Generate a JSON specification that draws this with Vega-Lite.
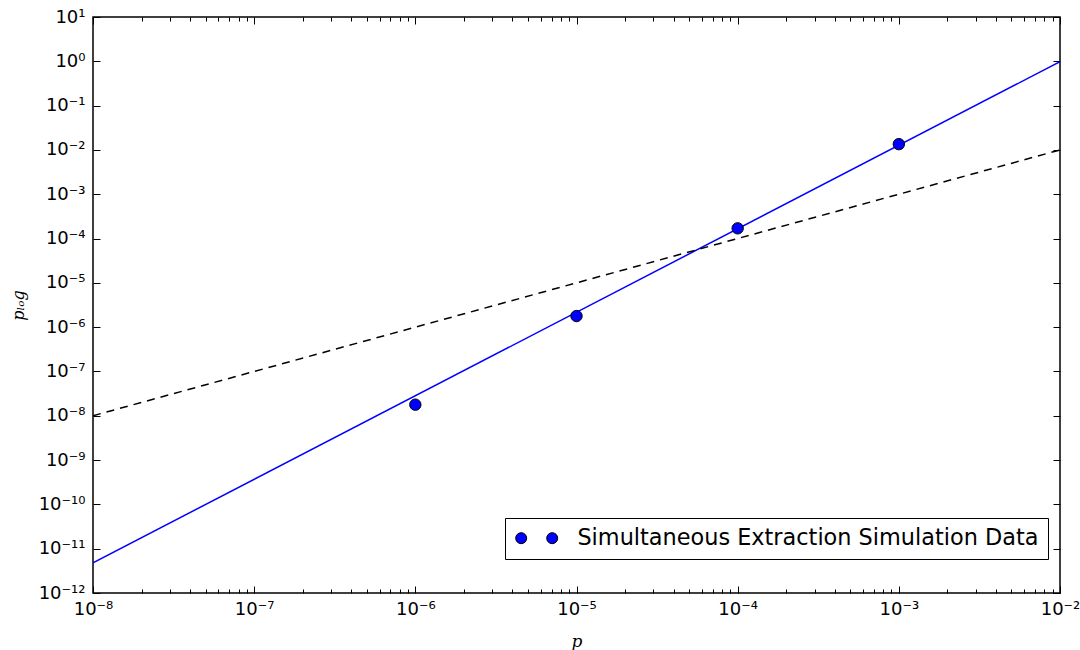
{
  "$schema": "https://vega.github.io/schema/vega-lite/v6.json",
  "width": 967,
  "height": 576,
  "autosize": "none",
  "padding": {"left": 93, "top": 17, "right": 20, "bottom": 57},
  "background": "white",
  "config": {
    "view": {"stroke": "black", "strokeWidth": 1.5},
    "axis": {"grid": false, "domain": false, "tickColor": "black", "tickWidth": 1, "labelColor": "black", "titleColor": "black"}
  },
  "datasets": {
    "fit": [
      {"p": 1e-8, "plog": 4.8e-12},
      {"p": 1e-2, "plog": 0.98}
    ],
    "ref": [
      {"p": 1e-8, "plog": 1e-8},
      {"p": 1e-2, "plog": 1e-2}
    ],
    "sim": [
      {"p": 1e-6, "plog": 1.78e-8, "series": "Simultaneous Extraction Simulation Data"},
      {"p": 1e-5, "plog": 1.78e-6, "series": "Simultaneous Extraction Simulation Data"},
      {"p": 1e-4, "plog": 1.7e-4, "series": "Simultaneous Extraction Simulation Data"},
      {"p": 1e-3, "plog": 1.35e-2, "series": "Simultaneous Extraction Simulation Data"}
    ]
  },
  "resolve": {"axis": {"x": "independent", "y": "independent"}},
  "layer": [
    {
      "data": {"name": "fit"},
      "mark": {"type": "line", "color": "#0000ff", "strokeWidth": 1.5, "clip": true},
      "encoding": {
        "x": {
          "field": "p", "type": "quantitative",
          "scale": {"type": "log", "domain": [1e-8, 1e-2], "nice": false},
          "axis": {
            "orient": "bottom",
            "values": [1e-8,2e-8,3e-8,4e-8,5e-8,6e-8,7e-8,8e-8,9e-8,1e-7,2e-7,3e-7,4e-7,5e-7,6e-7,7e-7,8e-7,9e-7,1e-6,2e-6,3e-6,4e-6,5e-6,6e-6,7e-6,8e-6,9e-6,1e-5,2e-5,3e-5,4e-5,5e-5,6e-5,7e-5,8e-5,9e-5,1e-4,2e-4,3e-4,4e-4,5e-4,6e-4,7e-4,8e-4,9e-4,1e-3,2e-3,3e-3,4e-3,5e-3,6e-3,7e-3,8e-3,9e-3,1e-2],
            "tickSize": {"condition": {"test": "abs(log(datum.value)/LN10 - round(log(datum.value)/LN10)) < 0.001", "value": -7}, "value": -4},
            "labelExpr": "abs(log(datum.value)/LN10 - round(log(datum.value)/LN10)) < 0.001 ? '10' + replace(replace(replace(replace(replace(replace(replace(replace(replace(replace(replace('' + round(log(datum.value)/LN10), regexp('-','g'), '⁻'), regexp('0','g'), '⁰'), regexp('1','g'), '¹'), regexp('2','g'), '²'), regexp('3','g'), '³'), regexp('4','g'), '⁴'), regexp('5','g'), '⁵'), regexp('6','g'), '⁶'), regexp('7','g'), '⁷'), regexp('8','g'), '⁸'), regexp('9','g'), '⁹') : ''",
            "labelFont": "DejaVu Sans", "labelFontSize": 18, "labelPadding": 14,
            "labelOverlap": false, "labelFlush": false, "labelBound": false,
            "title": "p", "titleFont": "DejaVu Serif", "titleFontStyle": "italic", "titleFontWeight": "normal", "titleFontSize": 17, "titlePadding": 12
          }
        },
        "y": {
          "field": "plog", "type": "quantitative",
          "scale": {"type": "log", "domain": [1e-12, 10], "nice": false},
          "axis": {
            "orient": "left",
            "values": [1e-12,1e-11,1e-10,1e-9,1e-8,1e-7,1e-6,1e-5,1e-4,1e-3,1e-2,1e-1,1,10],
            "tickSize": -7,
            "labelExpr": "'10' + replace(replace(replace(replace(replace(replace(replace(replace(replace(replace(replace('' + round(log(datum.value)/LN10), regexp('-','g'), '⁻'), regexp('0','g'), '⁰'), regexp('1','g'), '¹'), regexp('2','g'), '²'), regexp('3','g'), '³'), regexp('4','g'), '⁴'), regexp('5','g'), '⁵'), regexp('6','g'), '⁶'), regexp('7','g'), '⁷'), regexp('8','g'), '⁸'), regexp('9','g'), '⁹')",
            "labelFont": "DejaVu Sans", "labelFontSize": 18, "labelPadding": 15,
            "labelOverlap": false, "labelFlush": false, "labelBound": false,
            "title": "pₗₒg", "titleFont": "DejaVu Serif", "titleFontStyle": "italic", "titleFontWeight": "normal", "titleFontSize": 16, "titlePadding": 12
          }
        }
      }
    },
    {
      "data": {"name": "ref"},
      "mark": {"type": "line", "color": "black", "strokeWidth": 1.5, "strokeDash": [8, 6], "clip": true},
      "encoding": {
        "x": {
          "field": "p", "type": "quantitative",
          "scale": {"type": "log", "domain": [1e-8, 1e-2], "nice": false},
          "axis": {
            "orient": "top",
            "values": [1e-8,2e-8,3e-8,4e-8,5e-8,6e-8,7e-8,8e-8,9e-8,1e-7,2e-7,3e-7,4e-7,5e-7,6e-7,7e-7,8e-7,9e-7,1e-6,2e-6,3e-6,4e-6,5e-6,6e-6,7e-6,8e-6,9e-6,1e-5,2e-5,3e-5,4e-5,5e-5,6e-5,7e-5,8e-5,9e-5,1e-4,2e-4,3e-4,4e-4,5e-4,6e-4,7e-4,8e-4,9e-4,1e-3,2e-3,3e-3,4e-3,5e-3,6e-3,7e-3,8e-3,9e-3,1e-2],
            "tickSize": {"condition": {"test": "abs(log(datum.value)/LN10 - round(log(datum.value)/LN10)) < 0.001", "value": -7}, "value": -4},
            "labels": false, "title": null
          }
        },
        "y": {
          "field": "plog", "type": "quantitative",
          "scale": {"type": "log", "domain": [1e-12, 10], "nice": false},
          "axis": {
            "orient": "right",
            "values": [1e-12,1e-11,1e-10,1e-9,1e-8,1e-7,1e-6,1e-5,1e-4,1e-3,1e-2,1e-1,1,10],
            "tickSize": -7,
            "labels": false, "title": null
          }
        }
      }
    },
    {
      "data": {"name": "sim"},
      "mark": {"type": "point", "filled": true, "shape": "circle", "size": 130, "stroke": "black", "strokeWidth": 1, "opacity": 1},
      "encoding": {
        "x": {"field": "p", "type": "quantitative", "scale": {"type": "log", "domain": [1e-8, 1e-2], "nice": false}, "axis": null},
        "y": {"field": "plog", "type": "quantitative", "scale": {"type": "log", "domain": [1e-12, 10], "nice": false}, "axis": null},
        "color": {
          "field": "series", "type": "nominal",
          "scale": {"range": ["#0000ff"]},
          "legend": {
            "title": null,
            "orient": "none",
            "legendX": 412,
            "legendY": 501,
            "symbolType": "M -2.625 0 A 0.6875 0.6875 0 1 0 -1.25 0 A 0.6875 0.6875 0 1 0 -2.625 0 Z M 1.25 0 A 0.6875 0.6875 0 1 0 2.625 0 A 0.6875 0.6875 0 1 0 1.25 0 Z",
            "symbolSize": 256,
            "symbolStrokeColor": "black",
            "symbolStrokeWidth": 1,
            "symbolFillColor": "#0000ff",
            "symbolOpacity": 1,
            "symbolOffset": 11.5,
            "labelFont": "DejaVu Sans",
            "labelFontSize": 22.4,
            "labelColor": "black",
            "labelOffset": 29.5,
            "labelLimit": 700,
            "strokeColor": "black",
            "fillColor": "white",
            "padding": 9,
            "cornerRadius": 0
          }
        }
      }
    }
  ]
}
